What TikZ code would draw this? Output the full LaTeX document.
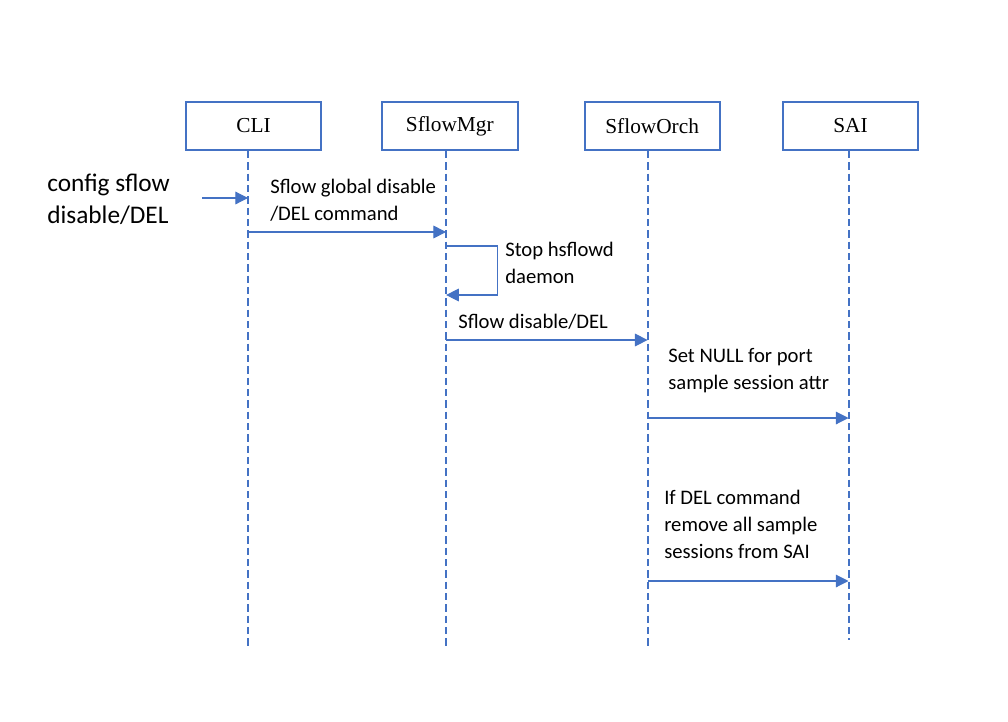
\documentclass[tikz,border=0pt]{standalone}
\usepackage{fontspec}
\setmainfont{Carlito}
\newfontfamily\boxfont{Liberation Serif}
\usepackage{tikz}
\usetikzlibrary{arrows.meta, positioning}
\definecolor{seqblue}{HTML}{4472C4}
\tikzstyle{actor}    = [rectangle, draw=seqblue, line width=1.5pt, minimum width=101.5pt, minimum height=36pt, text centered, font=\boxfont\fontsize{16}{18}\selectfont]
\tikzstyle{lifeline} = [draw=seqblue, line width=1.5pt, dash pattern=on 5.5pt off 3pt]
\tikzstyle{msg}      = [draw=seqblue, line width=0.8pt, -{Triangle[length=9.5pt, width=9.5pt]}]
\tikzstyle{note}     = [inner sep=0pt, anchor=west, align=left, font=\fontsize{15.5}{20.25}\selectfont]

\begin{document}
\begin{tikzpicture}[x=0.75pt, y=-0.75pt]
    \useasboundingbox (0,0) rectangle (1008,722);

    % participants
    \node (cli)  [actor] at (253.5,126) {CLI};
    \node (mgr)  [actor, right=44.25pt of cli]  {SflowMgr};
    \node (orch) [actor, right=48.75pt of mgr]  {SflowOrch};
    \node (sai)  [actor, right=45.75pt of orch] {SAI};

    % lifelines
    \coordinate (lcli)  at ([xshift=-4.1pt]cli.south);
    \coordinate (lmgr)  at ([xshift=-2.8pt]mgr.south);
    \coordinate (lorch) at ([xshift=-3.4pt]orch.south);
    \coordinate (lsai)  at ([xshift=-1.5pt]sai.south);
    \draw [lifeline] (lcli)  -- ++(0,497);
    \draw [lifeline] (lmgr)  -- ++(0,497);
    \draw [lifeline] (lorch) -- ++(0,497);
    \draw [lifeline] (lsai)  -- ++(0,489);

    % message rows
    \coordinate (in) at (202,198);
    \coordinate (y1) at (0,232);
    \coordinate (s1) at (0,246);
    \coordinate (s2) at (0,295);
    \coordinate (y2) at (0,340);
    \coordinate (y3) at (0,418);
    \coordinate (y4) at (0,581);

    \node (cmd) [note, font=\fontsize{19}{24}\selectfont] at (47,199) {config sflow\\disable/DEL};
    \draw [msg] (in) -- (lcli |- in);

    \node (t1) [note] at (270,200) {Sflow global disable\\/DEL command};
    \draw [msg] (lcli |- y1) -- (lmgr |- y1);

    \node (t2) [note] at (505,263) {Stop hsflowd\\daemon};
    \draw [msg] (lmgr |- s1) -- ++(51,0) |- (lmgr |- s2);

    \node (t3) [note] at (458,322) {Sflow disable/DEL};
    \draw [msg] (lmgr |- y2) -- (lorch |- y2);

    \node (t4) [note] at (668,371) {Set NULL for port\\sample session attr};
    \draw [msg] (lorch |- y3) -- (lsai |- y3);

    \node (t5) [note] at (664,524) {If DEL command\\remove all sample\\sessions from SAI};
    \draw [msg] (lorch |- y4) -- (lsai |- y4);
\end{tikzpicture}
\end{document}
